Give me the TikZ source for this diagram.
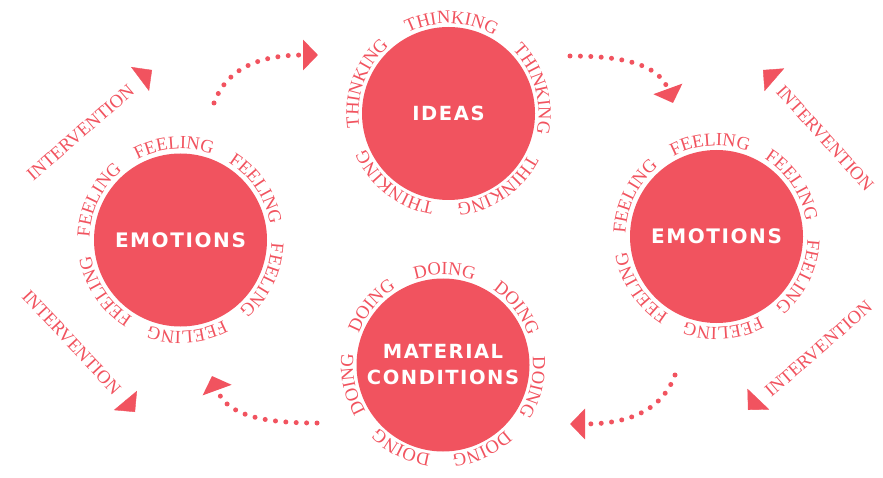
\documentclass[tikz,border=0pt]{standalone}
\usepackage{fontspec}
\usetikzlibrary{arrows.meta,decorations.text}
\newfontfamily\stencilfont{DejaVu Sans}[LetterSpace=8]
\newfontfamily\ringfont{Liberation Serif}
\definecolor{coral}{RGB}{241,83,95}
\tikzset{
  bubble/.style={circle, fill=coral, minimum size=173pt, inner sep=0pt, text=white, align=center},
  ring word/.style={decorate, decoration={text along path, text align=center, text color=coral,
      text={|\ringfont\fontsize{18.5}{18.5}\selectfont|#1}}},
  dots/.style={coral, line width=5pt, line cap=round, dash pattern=on 0pt off 10.4pt,
      -{Triangle[width=30pt,length=15pt]}},
  tag/.style={text=coral, font=\ringfont\fontsize{18.5}{18.5}\selectfont},
  head/.style={coral, -{Triangle[width=30pt,length=15pt]}}
}
\begin{document}
\begin{tikzpicture}[x=1pt,y=1pt]
  \useasboundingbox (0,0) rectangle (883,477);

  % the four circles
  \node[bubble, font=\stencilfont\bfseries\fontsize{19.5}{19.5}\selectfont] (ideas) at (448.5,363.5) {IDEAS};
  \node[bubble, font=\stencilfont\bfseries\fontsize{20}{20}\selectfont] (emoleft) at (180.5,237) {EMOTIONS};
  \node[bubble, font=\stencilfont\bfseries\fontsize{20}{20}\selectfont] (emoright) at (716.5,240.5) {EMOTIONS};
  \node[bubble, font=\stencilfont\bfseries\fontsize{19.5}{26}\selectfont] (material) at (443,112) {MATERIAL\\CONDITIONS};

  % words running round the circles
  \foreach \a in {88,16,-56,-128,-200}
    \path[ring word=THINKING] (ideas.center) ++(\a+35:90) arc[start angle=\a+35, end angle=\a-35, radius=90];
  \foreach \c in {emoleft,emoright}
    \foreach \a in {94,34,...,-206}
      \path[ring word=FEELING] (\c.center) ++(\a+30:91) arc[start angle=\a+30, end angle=\a-30, radius=91];
  \foreach \k [evaluate=\k as \a using 89-\k*360/7] in {0,...,6}
    \path[ring word=DOING] (material.center) ++(\a+25:90) arc[start angle=\a+25, end angle=\a-25, radius=90];

  % dotted arrows between the circles
  \coordinate (a1s) at (214,374);
  \coordinate (a1e) at (318,422);
  \coordinate (a2s) at (570,421);
  \coordinate (a2e) at (673,374);
  \coordinate (a3s) at (675,102);
  \coordinate (a3e) at (570,53);
  \coordinate (a4s) at (317,54);
  \coordinate (a4e) at (212,101);
  \draw[dots] (a1s) to[out=70,in=180] (a1e);
  \draw[dots] (a2s) to[out=0,in=110] (a2e);
  \draw[dots] (a3s) to[out=-110,in=0] (a3e);
  \draw[dots] (a4s) to[out=180,in=-70] (a4e);

  % intervention labels and their heads
  \node[tag, rotate=41] (intertl) at (80.5,344.5) {INTERVENTION};
  \node[tag, rotate=-47] (interbl) at (71.5,134.5) {INTERVENTION};
  \node[tag, rotate=-48] (intertr) at (825,338.5) {INTERVENTION};
  \node[tag, rotate=41] (interbr) at (818.5,128) {INTERVENTION};
  \coordinate (htl) at (140,398);
  \coordinate (htltip) at (152,407);
  \coordinate (hbl) at (125,77);
  \coordinate (hbltip) at (135,65);
  \coordinate (htr) at (774,397.5);
  \coordinate (htrtip) at (763,407);
  \coordinate (hbr) at (758,77.5);
  \coordinate (hbrtip) at (748,67);
  \draw[head] (htl) -- (htltip);
  \draw[head] (hbl) -- (hbltip);
  \draw[head] (htr) -- (htrtip);
  \draw[head] (hbr) -- (hbrtip);
\end{tikzpicture}
\end{document}
